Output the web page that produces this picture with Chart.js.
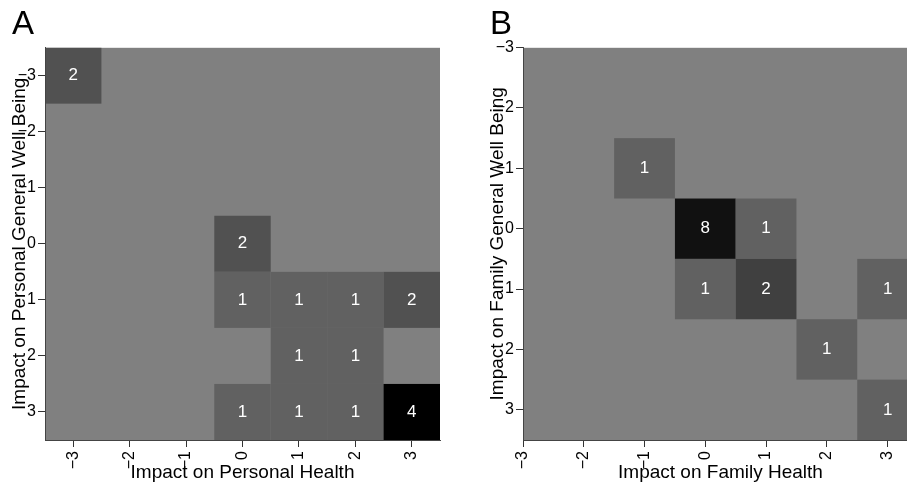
<!DOCTYPE html>
<html><head><meta charset="utf-8">
<script src="https://cdn.jsdelivr.net/npm/chart.js@4/dist/chart.umd.min.js"></script>
<style>
html,body{margin:0;padding:0;background:#fff;overflow:hidden;width:907px;height:484px;position:relative;}
#ca{position:absolute;left:0;top:0;}
#cb{position:absolute;left:478px;top:0;}
</style></head><body>
<canvas id="ca" width="460" height="484"></canvas>
<canvas id="cb" width="460" height="484"></canvas>
<script>
// tick positions and labels (same on both axes of both panels)
const tickValues = [-3, -2, -1, 0, 1, 2, 3];
const tickLabels = ['−3', '−2', '−1', '0', '1', '2', '3'];

// Panel A: Impact on Personal Health (x) vs Personal General Well Being (y)
const personalHealth = [-3, 0, 0, 1, 2, 3, 1, 2, 0, 1, 2, 3];
const personalWell   = [-3, 0, 1, 1, 1, 1, 2, 2, 3, 3, 3, 3];
const personalCount  = [ 2, 2, 1, 1, 1, 2, 1, 1, 1, 1, 1, 4];

// Panel B: Impact on Family Health (x) vs Family General Well Being (y)
const familyHealth = [-1, 0, 1, 0, 1, 3, 2, 3];
const familyWell   = [-1, 0, 0, 1, 1, 1, 2, 3];
const familyCount  = [ 1, 8, 1, 1, 2, 1, 1, 1];

const F = '"Liberation Sans", Arial, Helvetica, sans-serif';
Chart.defaults.font.family = F;

const shadeA = {1: '#616161', 2: '#515151', 4: '#000000'};
const shadeB = {1: '#616161', 2: '#404040', 8: '#111111'};

function cells(xs, ys, vs) {
  return xs.map((x, i) => ({x: x, y: ys[i], v: vs[i]}));
}

const heat = {
  id: 'heat',
  beforeDraw(chart, args, opts) {
    const ctx = chart.ctx, a = chart.chartArea, xs = chart.scales.x, ys = chart.scales.y;
    ctx.save();
    ctx.beginPath(); ctx.rect(a.left, a.top, a.right - a.left, a.bottom - a.top); ctx.clip();
    ctx.fillStyle = '#808080';
    ctx.fillRect(a.left, a.top, a.right - a.left, a.bottom - a.top);
    const pts = chart.data.datasets[0].data;
    pts.forEach(p => {
      const x0 = xs.getPixelForValue(p.x - 0.5), x1 = xs.getPixelForValue(p.x + 0.5);
      const y0 = ys.getPixelForValue(p.y - 0.5), y1 = ys.getPixelForValue(p.y + 0.5);
      ctx.fillStyle = opts.shade[p.v] || '#616161';
      ctx.fillRect(Math.min(x0, x1), Math.min(y0, y1), Math.abs(x1 - x0), Math.abs(y1 - y0));
    });
    ctx.fillStyle = '#ffffff';
    ctx.font = '17px ' + F;
    ctx.textAlign = 'center';
    ctx.textBaseline = 'middle';
    pts.forEach(p => {
      ctx.fillText(String(p.v), xs.getPixelForValue(p.x), ys.getPixelForValue(p.y));
    });
    ctx.restore();
  }
};

function axis(min, titleText, isX, titlePad) {
  const o = {
    type: 'linear', min: min, max: 3.5,
    afterBuildTicks: s => { s.ticks = tickValues.map(v => ({value: v})); },
    ticks: {
      callback: v => tickLabels[tickValues.indexOf(v)],
      autoSkip: false, color: '#000', font: {family: F, size: 16}, padding: 2
    },
    grid: {drawOnChartArea: false, drawTicks: true, tickLength: 7, color: '#333', tickColor: '#333'},
    border: {display: true, color: '#444', width: 1},
    title: {display: true, text: titleText, color: '#000', font: {family: F, size: 19}, padding: titlePad}
  };
  if (isX) {
    o.ticks.minRotation = 90; o.ticks.maxRotation = 90;
    o.ticks.padding = 4;
    o.afterFit = s => { s.height = 44; };
  } else {
    o.reverse = true;
    o.afterFit = s => { s.width = 33; };
  }
  return o;
}

function makeChart(id, letter, xs, ys, vs, shade, xTitle, yTitle, xMin, yMin) {
  return new Chart(document.getElementById(id), {
    type: 'scatter',
    data: {datasets: [{data: cells(xs, ys, vs), pointRadius: 0, pointHoverRadius: 0}]},
    options: {
      responsive: false, animation: false, events: [],
      layout: {padding: {left: 12, right: 20, top: 0, bottom: 0}},
      plugins: {
        legend: {display: false}, tooltip: {enabled: false},
        title: {display: true, text: letter, align: 'start', color: '#000',
                font: {family: F, size: 33, weight: 'normal'}, padding: {top: 5, bottom: 3}},
        heat: {shade: shade}
      },
      scales: {
        x: axis(xMin, xTitle, true, {top: 0, bottom: 0}),
        y: axis(yMin, yTitle, false, {top: -4, bottom: 0})
      }
    },
    plugins: [heat]
  });
}

makeChart('ca', 'A', personalHealth, personalWell, personalCount, shadeA,
  'Impact on Personal Health', 'Impact on Personal General Well Being', -3.5, -3.5);
makeChart('cb', 'B', familyHealth, familyWell, familyCount, shadeB,
  'Impact on Family Health', 'Impact on Family General Well Being', -3, -3);
</script>
</body></html>
